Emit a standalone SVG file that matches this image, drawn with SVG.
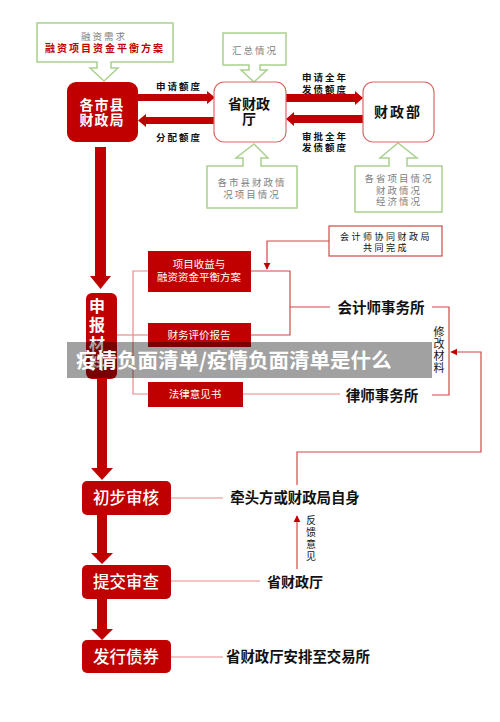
<svg xmlns="http://www.w3.org/2000/svg" width="500" height="722" viewBox="0 0 500 722">
<style>
text{font-family:"Noto Sans CJK SC","Noto Sans",sans-serif;}
.dk{fill:#c00000;}
.wt{fill:#fff;font-weight:bold;text-anchor:middle;}
.st{fill:#fff;font-weight:500;text-anchor:middle;font-size:16.5px;}
.bk{fill:#111;font-weight:bold;text-anchor:middle;}
.gy{fill:#808080;text-anchor:middle;font-size:9.5px;letter-spacing:2px;}
.call{fill:#fff;stroke:#a9d18e;stroke-width:1.5;}
.ln{fill:none;stroke:#d04848;stroke-width:1.2;}
.lp{fill:none;stroke:#e88a8a;stroke-width:1.2;}
.lbl{fill:#111;font-weight:bold;font-size:9.5px;letter-spacing:2px;text-anchor:middle;}
</style>
<defs>
<marker id="ah" viewBox="0 0 10 10" refX="9" refY="5" markerWidth="6" markerHeight="6" orient="auto"><path d="M0,0 L10,5 L0,10 Z" fill="#c00000"/></marker>
</defs>
<rect width="500" height="722" fill="#fff"/>

<g id="callout-rongzi">
<path class="call" d="M37,23 H173 V62 H111 V68 H118 L104,81 L90,68 H97 V62 H37 Z"/>
<text class="gy" x="104" y="40">融资需求</text>
<text x="105" y="52" font-size="10" font-weight="bold" fill="#c00000" text-anchor="middle" letter-spacing="2">融资项目资金平衡方案</text>
</g>
<g id="callout-huizong">
<path class="call" d="M223,33 H286 V65 H260 V70 H267 L254,82 L241,70 H249 V65 H223 Z"/>
<text class="gy" x="255" y="54">汇总情况</text>
</g>
<g id="callout-shixian">
<path class="call" d="M207,166 H243 V158 H236 L254,144 L268,158 H261 V166 H297 V208 H207 Z"/>
<text class="gy" x="252" y="186">各市县财政情</text>
<text class="gy" x="252" y="198">况项目情况</text>
</g>
<g id="callout-gesheng">
<path class="call" d="M355,166 H389 V158 H380 L398,143 L417,158 H407 V166 H442 V212 H355 Z"/>
<text class="gy" x="399" y="182">各省项目情况</text>
<text class="gy" x="399" y="193.5">财政情况</text>
<text class="gy" x="399" y="205">经济情况</text>
</g>

<g id="connectors">
<polygon class="dk" points="138,94 207,94 207,91 215,97.5 207,104 207,101 138,101"/>
<polygon class="dk" points="215,117 146,117 146,114 138,120.5 146,127 146,124 215,124"/>
<polygon class="dk" points="286,94 355,94 355,91 363,98 355,105 355,102 286,102"/>
<polygon class="dk" points="363,115 294,115 294,112 286,119 294,126 294,123 363,123"/>
<polygon class="dk" points="95,147 106,147 106,276 111,276 100.5,289 90,276 95,276"/>
<polygon class="dk" points="97,379 107,379 107,468 113,468 102,480 91,468 97,468"/>
<polygon class="dk" points="97,515 107,515 107,553 113,553 102,564 91,553 97,553"/>
<polygon class="dk" points="97,599 107,599 107,629 113,629 102,640 91,629 97,629"/>
<path class="lp" d="M148,271 H133 V394 H148"/>
<path class="lp" d="M117,335 H148"/>
<path class="ln" d="M251,271 H290 V335 H251"/>
<path class="ln" d="M290,307 H330"/>
<path class="ln" d="M329,241 H267 V269" marker-end="url(#ah)"/>
<path class="lp" d="M243,394 H340"/>
<path class="ln" d="M432,307 H449 V395 H432"/>
<path class="ln" d="M297,485 V452 H481 V352 H451" marker-end="url(#ah)"/>
<path class="ln" d="M297,569 V516" marker-end="url(#ah)"/>
<path class="lp" d="M171,498 H223"/>
<path class="lp" d="M171,581 H260"/>
<path class="lp" d="M171,657 H223"/>
</g>

<g id="node-shixian">
<rect class="dk" x="67" y="82" width="71" height="60" rx="9"/>
<text class="wt" x="102" y="110" font-size="14" letter-spacing="1">各市县</text>
<text class="wt" x="102" y="125" font-size="14" letter-spacing="1">财政局</text>
</g>
<text class="lbl" x="179" y="90">申请额度</text>
<text class="lbl" x="179" y="141">分配额度</text>

<g id="node-shengting">
<rect x="214" y="82" width="72" height="60" rx="10" fill="#fff" stroke="#e06666" stroke-width="1.2"/>
<text class="bk" x="249" y="109" font-size="14">省财政</text>
<text class="bk" x="249" y="124" font-size="14">厅</text>
</g>
<text class="lbl" x="325" y="81">申请全年</text>
<text class="lbl" x="325" y="93">发债额度</text>
<text class="lbl" x="325" y="140">审批全年</text>
<text class="lbl" x="325" y="151">发债额度</text>

<g id="node-caizhengbu">
<rect x="363" y="82" width="71" height="60" rx="10" fill="#fff" stroke="#e06666" stroke-width="1.2"/>
<text class="bk" x="398" y="117" font-size="14" letter-spacing="2">财政部</text>
</g>

<g id="node-shenbao">
<rect class="dk" x="86" y="293" width="31" height="86" rx="6"/>
<text class="wt" x="97" y="312" font-size="16">申</text>
<text class="wt" x="97" y="331" font-size="16">报</text>
<text class="wt" x="97" y="350" font-size="16">材</text>
<text class="wt" x="97" y="369" font-size="16">料</text>
</g>

<g id="node-xiangmu">
<rect class="dk" x="148" y="251" width="103" height="41"/>
<text x="199" y="268" fill="#fff" font-size="10.5" text-anchor="middle">项目收益与</text>
<text x="199" y="281" fill="#fff" font-size="10.5" text-anchor="middle">融资资金平衡方案</text>
</g>
<g id="node-caiwu">
<rect class="dk" x="148" y="323" width="103" height="24"/>
<text x="199" y="339" fill="#fff" font-size="10.5" text-anchor="middle">财务评价报告</text>
</g>
<g id="node-falv">
<rect class="dk" x="148" y="382" width="95" height="25"/>
<text x="195" y="398" fill="#fff" font-size="10.5" text-anchor="middle">法律意见书</text>
</g>

<g id="node-xietong">
<rect x="329" y="226" width="113" height="30" fill="#fff" stroke="#d04848" stroke-width="1.2"/>
<text x="386" y="240" fill="#111" font-size="9" text-anchor="middle" letter-spacing="2.5">会计师协同财政局</text>
<text x="386" y="251" fill="#111" font-size="9" text-anchor="middle" letter-spacing="2.5">共同完成</text>
</g>

<g id="node-kuaiji"><text class="bk" x="381" y="313" font-size="14.5">会计师事务所</text></g>
<g id="node-lvshi"><text class="bk" x="382" y="401" font-size="14.5">律师事务所</text></g>
<g id="label-xiugai" fill="#111" font-size="11" text-anchor="middle">
<text x="439" y="336">修</text><text x="439" y="348">改</text><text x="439" y="360">材</text><text x="439" y="372">料</text>
</g>

<g id="node-chubu">
<rect class="dk" x="82" y="481" width="89" height="34" rx="5"/>
<text class="st" x="126" y="504">初步审核</text>
</g>
<g id="node-tijiao">
<rect class="dk" x="82" y="565" width="89" height="34" rx="5"/>
<text class="st" x="126" y="588">提交审查</text>
</g>
<g id="node-faxing">
<rect class="dk" x="82" y="640" width="89" height="33" rx="5"/>
<text class="st" x="126" y="663">发行债券</text>
</g>

<g id="node-qiantou"><text class="bk" x="295" y="503" font-size="14.4">牵头方或财政局自身</text></g>
<g id="label-fankui" fill="#111" font-size="10" text-anchor="middle">
<text x="311" y="524">反</text><text x="311" y="536">馈</text><text x="311" y="548">意</text><text x="311" y="560">见</text>
</g>
<g id="node-shengting2"><text class="bk" x="295" y="587" font-size="14">省财政厅</text></g>
<g id="node-jiaoyisuo"><text class="bk" x="298" y="662" font-size="14.4">省财政厅安排至交易所</text></g>

<g id="banner">
<rect x="67" y="342" width="365" height="36" fill="#000" fill-opacity="0.37"/>
<text x="76" y="368" fill="#fff" font-size="20.5" font-weight="bold">疫情负面清单/疫情负面清单是什么</text>
</g>
</svg>
